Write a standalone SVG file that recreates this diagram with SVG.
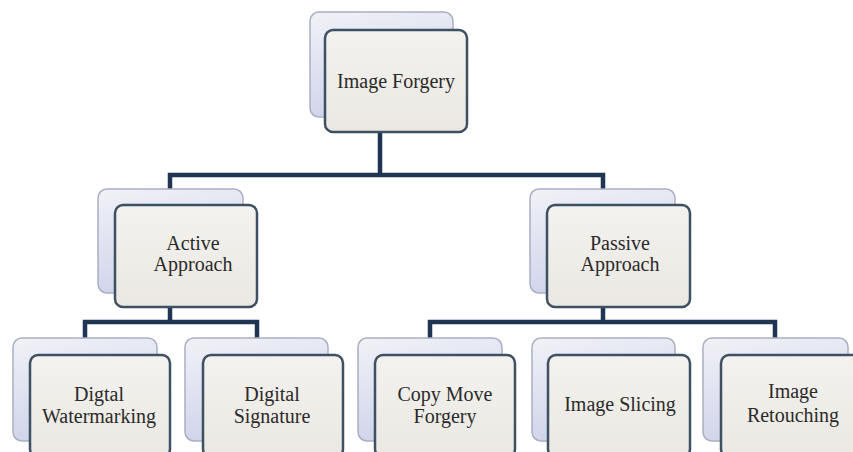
<svg xmlns="http://www.w3.org/2000/svg" width="853" height="452" viewBox="0 0 853 452">
<defs>
<linearGradient id="gBack" x1="0" y1="0" x2="0.3" y2="1">
<stop offset="0" stop-color="#f1f2f7"/>
<stop offset="1" stop-color="#cfd3ea"/>
</linearGradient>
<linearGradient id="gFront" x1="0" y1="0" x2="0" y2="1">
<stop offset="0" stop-color="#f3f2ee"/>
<stop offset="1" stop-color="#ebe8e2"/>
</linearGradient>
<style>
.back{fill:url(#gBack);stroke:#a9afc2;stroke-width:1.5}
.front{fill:url(#gFront);stroke:#3e5064;stroke-width:2.5}
.lbl{font-family:"Liberation Serif","DejaVu Serif",serif;font-size:20px;fill:#2a2a2a;text-anchor:middle}
.conn{fill:none;stroke:#1f3552;stroke-width:4.5;stroke-linejoin:miter}
</style>
</defs>
<rect width="853" height="452" fill="#ffffff"/>
<g id="connectors">
<path class="conn" d="M380,132 V175 M170,192 V175 H603 V192"/>
<path class="conn" d="M170,307 V322 M85,339 V322 H257 V339"/>
<path class="conn" d="M603,307 V322 M430,339 V322 H775 V339"/>
</g>
<g id="n-image-forgery">
<rect class="back" x="310" y="12" width="143" height="105" rx="9"/>
<rect class="front" x="325" y="30" width="142" height="102" rx="8"/>
<text class="lbl" x="396" y="88">Image Forgery</text>
</g>
<g id="n-active">
<rect class="back" x="98" y="189" width="145" height="104" rx="9"/>
<rect class="front" x="115" y="205" width="142" height="102" rx="8"/>
<text class="lbl" x="193" y="250">Active</text>
<text class="lbl" x="193" y="271">Approach</text>
</g>
<g id="n-passive">
<rect class="back" x="530" y="189" width="145" height="104" rx="9"/>
<rect class="front" x="547" y="205" width="143" height="102" rx="8"/>
<text class="lbl" x="620" y="250">Passive</text>
<text class="lbl" x="620" y="271">Approach</text>
</g>
<g id="n-watermarking">
<rect class="back" x="13" y="338" width="144" height="103" rx="9"/>
<rect class="front" x="30" y="355" width="140" height="102" rx="8"/>
<text class="lbl" x="99" y="401">Digtal</text>
<text class="lbl" x="99" y="423">Watermarking</text>
</g>
<g id="n-signature">
<rect class="back" x="185" y="338" width="143" height="103" rx="9"/>
<rect class="front" x="203" y="355" width="140" height="102" rx="8"/>
<text class="lbl" x="272" y="401">Digital</text>
<text class="lbl" x="272" y="423">Signature</text>
</g>
<g id="n-copymove">
<rect class="back" x="358" y="338" width="144" height="103" rx="9"/>
<rect class="front" x="375" y="355" width="140" height="102" rx="8"/>
<text class="lbl" x="445" y="401">Copy Move</text>
<text class="lbl" x="445" y="423">Forgery</text>
</g>
<g id="n-slicing">
<rect class="back" x="532" y="338" width="143" height="103" rx="9"/>
<rect class="front" x="548" y="355" width="142" height="102" rx="8"/>
<text class="lbl" x="620" y="411">Image Slicing</text>
</g>
<g id="n-retouching">
<rect class="back" x="703" y="338" width="145" height="103" rx="9"/>
<rect class="front" x="721" y="355" width="140" height="102" rx="8"/>
<text class="lbl" x="793" y="398">Image</text>
<text class="lbl" x="793" y="422">Retouching</text>
</g>
</svg>
